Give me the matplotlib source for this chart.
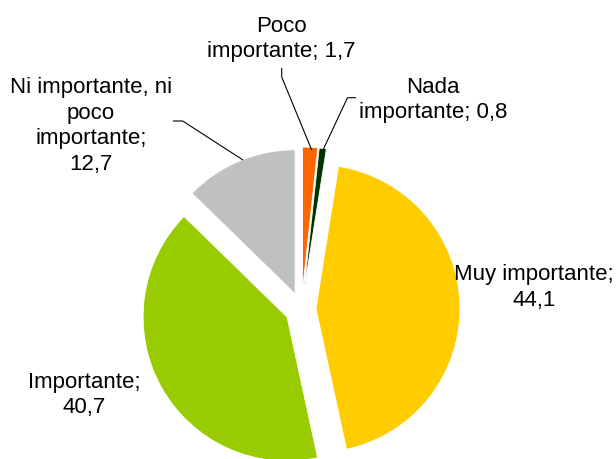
import matplotlib.pyplot as plt

plt.rcParams['font.family'] = ['Liberation Sans', 'DejaVu Sans']

# data, clockwise from 12 o'clock
categories = ['Poco\nimportante', 'Nada\nimportante', 'Muy importante',
              'Importante', 'Ni importante, ni\npoco\nimportante']
values = [1.7, 0.8, 44.1, 40.7, 12.7]
colors = ['#FF6600', '#003300', '#FFCC00', '#99CC00', '#C0C0C0']
explode = [18, 18, 14.5, 16.5, 16.5]  # pixels

W, H = 616, 459
fig = plt.figure(figsize=(W / 100, H / 100), dpi=100)
ax = fig.add_axes([0, 0, 1, 1])

cx, cy, r = 301.5, H - 309, 144
ax.pie(values, colors=colors, explode=explode, startangle=90, counterclock=False,
       center=(cx, cy), radius=r,
       wedgeprops=dict(edgecolor='white', linewidth=0.6))

ax.set_xlim(0, W)
ax.set_ylim(0, H)
ax.set_aspect('equal')
ax.axis('off')

def fmt(v):
    return ('%.1f' % v).replace('.', ',')

# label anchors (last-line baseline, image pixel coords)
label_pos = [(281, 57.3), (433, 118.3), (534, 306), (84, 413.3), (91, 170)]
label_txt = [
    'Poco\nimportante; ' + fmt(values[0]),
    'Nada\nimportante; ' + fmt(values[1]),
    'Muy importante;\n' + fmt(values[2]),
    'Importante;\n' + fmt(values[3]),
    'Ni importante, ni\npoco\nimportante;\n' + fmt(values[4]),
]
for (x, y), t in zip(label_pos, label_txt):
    ax.text(x, H - y, t, ha='center', va='baseline', fontsize=16,
            linespacing=1.29, color='black')

# leader lines
leaders = [
    [(281.7, 68), (281.7, 77), (311.7, 150)],
    [(356, 97.7), (347.5, 97.7), (323, 150)],
    [(173, 121), (182.7, 121), (243, 160)],
]
for pts in leaders:
    xs = [p[0] for p in pts]
    ys = [H - p[1] for p in pts]
    ax.plot(xs, ys, color='black', lw=0.8, solid_capstyle='butt')

fig.savefig('out.png', dpi=100)
